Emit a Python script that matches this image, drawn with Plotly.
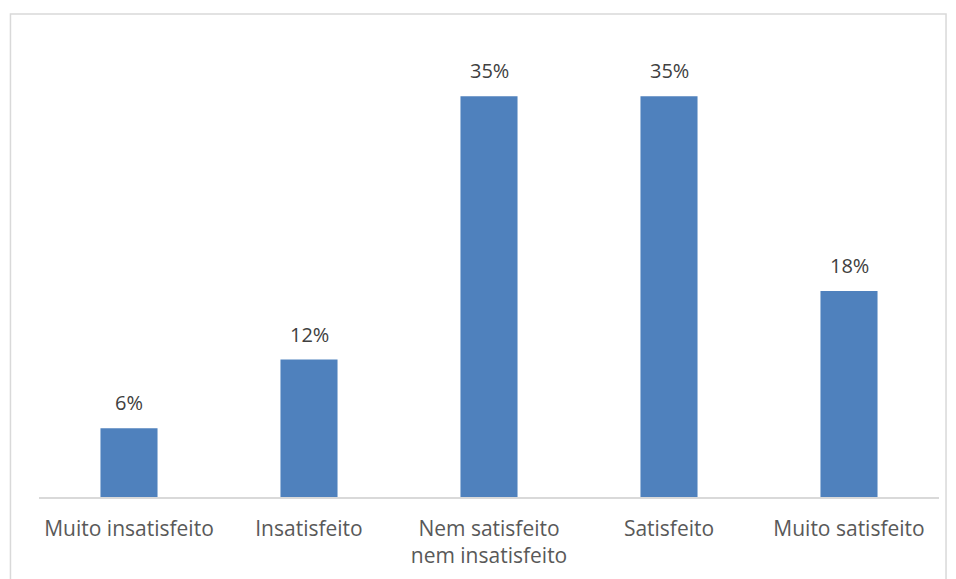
import plotly.graph_objects as go

categories = ["Muito insatisfeito", "Insatisfeito", "Nem satisfeito<br>nem insatisfeito", "Satisfeito", "Muito satisfeito"]
values = [6, 12, 35, 35, 18]
labels = ["6%", "12%", "35%", "35%", "18%"]

FONT = "'Open Sans', 'Noto Sans', sans-serif"

fig = go.Figure()
fig.add_trace(go.Bar(
    x=categories, y=values,
    marker=dict(color="#4f81bd", line=dict(width=0)),
    hoverinfo="skip",
))

for c, v, t in zip(categories, values, labels):
    fig.add_annotation(x=c, y=v, text=t, showarrow=False, yanchor="bottom", yshift=10,
                       font=dict(family=FONT, size=20, color="#404040"))

fig.add_shape(type="rect", xref="paper", yref="paper",
              x0=-0.0317, x1=1.0078, y0=-0.25, y1=1.0545,
              line=dict(color="#d9d9d9", width=1.5), fillcolor="rgba(0,0,0,0)", layer="below")

fig.update_layout(
    width=956, height=579,
    margin=dict(l=31, r=25, t=31, b=90),
    paper_bgcolor="white", plot_bgcolor="white",
    bargap=0.683,
    showlegend=False,
    font=dict(family=FONT, size=21, color="#595959"),
)
fig.update_xaxes(showline=True, linecolor="#d9d9d9", linewidth=1.5, ticks="", showgrid=False,
                 tickfont=dict(family=FONT, size=21, color="#595959"), ticklabelstandoff=12)
fig.update_yaxes(range=[0, 40], visible=False, showgrid=False, zeroline=False)

fig.write_html("out.html")
